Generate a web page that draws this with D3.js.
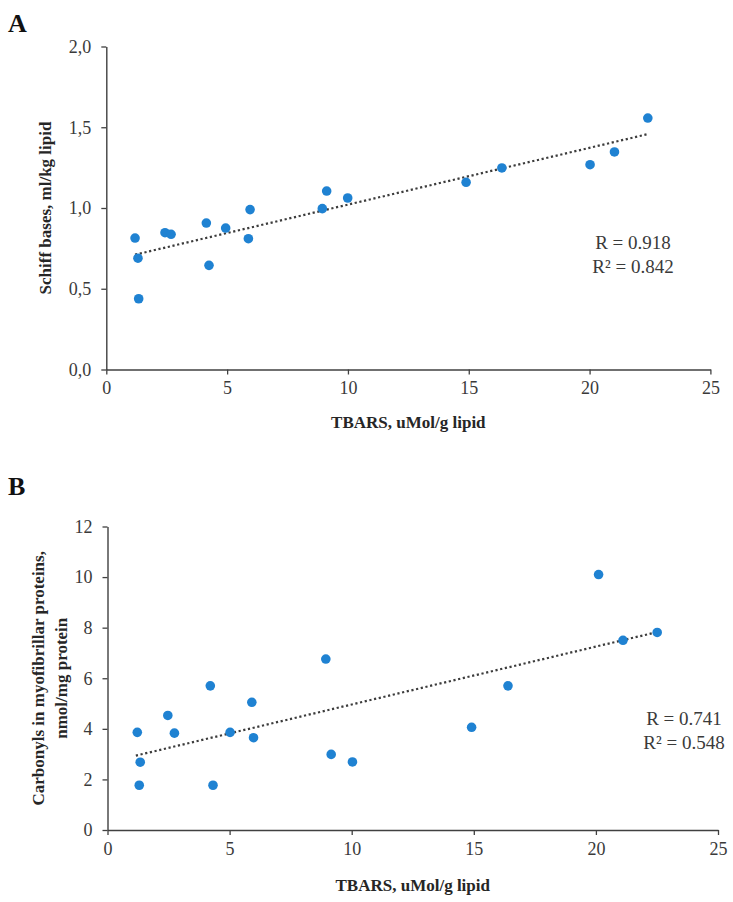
<!DOCTYPE html>
<html>
<head>
<meta charset="utf-8">
<script src="https://cdn.jsdelivr.net/npm/d3@7"></script>
<style>
  html, body { margin: 0; padding: 0; background: #fff; }
  svg { display: block; }
</style>
</head>
<body>
<svg id="chart" width="733" height="902"></svg>
<script>
// ---------- DATA ----------
// Panel A: TBARS (uMol/g lipid) vs Schiff bases (ml/kg lipid)
const tbarsA  = [1.19, 1.31, 1.34, 2.43, 2.68, 4.14, 4.25, 4.94, 5.95, 5.88, 8.94, 9.12, 9.99, 14.89, 16.37, 20.02, 21.03, 22.41];
const schiffA = [0.814, 0.689, 0.438, 0.847, 0.837, 0.907, 0.645, 0.876, 0.990, 0.810, 0.996, 1.105, 1.062, 1.159, 1.248, 1.268, 1.347, 1.557];
const trendAx = [1.19, 22.37];
const trendAy = [0.711, 1.456];
const yTicksA = [0, 0.5, 1.0, 1.5, 2.0];
const statsA  = ["R = 0.918", "R² = 0.842"];

// Panel B: TBARS (uMol/g lipid) vs Carbonyls in myofibrillar proteins (nmol/mg protein)
const tbarsB     = [1.22, 1.34, 1.30, 2.47, 2.74, 4.21, 4.32, 5.02, 5.91, 5.98, 8.94, 9.16, 10.03, 14.91, 16.40, 20.11, 21.11, 22.51];
const carbonylsB = [3.86, 2.68, 1.77, 4.53, 3.83, 5.70, 1.77, 3.86, 5.05, 3.65, 6.76, 2.99, 2.69, 4.06, 5.70, 10.10, 7.50, 7.81];
const trendBx = [1.16, 22.44];
const trendBy = [2.94, 7.81];
const yTicksB = [0, 2, 4, 6, 8, 10, 12];
const statsB  = ["R = 0.741", "R² = 0.548"];

const xTicks = [0, 5, 10, 15, 20, 25];
const xTitle = "TBARS, uMol/g lipid";
const yTitleA = ["Schiff bases, ml/kg lipid"];
const yTitleB = ["Carbonyls in myofibrillar proteins,", "nmol/mg protein"];

// ---------- DRAW ----------
const svg = d3.select("#chart");
const FONT = "'Liberation Serif', 'Times New Roman', serif";
const AXIS = "#404040";
const DOT = "#1f82d2";

function panel(opts) {
  const g = svg.append("g");
  const x = d3.scaleLinear().domain([0, 25]).range(opts.xRange);
  const y = d3.scaleLinear().domain(opts.yDomain).range(opts.yRange);

  const xAxis = g.append("g")
    .attr("transform", `translate(0,${opts.yRange[0]})`)
    .call(d3.axisBottom(x).tickValues(xTicks).tickSize(5).tickSizeOuter(0).tickPadding(7));
  const yAxis = g.append("g")
    .attr("transform", `translate(${opts.xRange[0]},0)`)
    .call(d3.axisLeft(y).tickValues(opts.yTicks).tickSize(5).tickSizeOuter(0).tickPadding(10).tickFormat(opts.yFmt));

  [xAxis, yAxis].forEach(a => {
    a.select(".domain").attr("stroke", AXIS).attr("stroke-width", 1.4);
    a.selectAll(".tick line").attr("stroke", AXIS).attr("stroke-width", 1.3);
    a.selectAll(".tick text").attr("fill", "#3a3a3a").style("font-family", FONT).style("font-size", "18px");
  });

  // trend line (dotted)
  const tr = opts.trendX.map((v, i) => [v, opts.trendY[i]]);
  g.append("path")
    .datum(tr)
    .attr("d", d3.line().x(d => x(d[0])).y(d => y(d[1])))
    .attr("fill", "none")
    .attr("stroke", "#3c3c3c")
    .attr("stroke-width", 2.2)
    .attr("stroke-dasharray", "2.2,2.6");

  // points
  const pts = opts.xs.map((v, i) => [v, opts.ys[i]]);
  g.selectAll("circle.pt").data(pts).enter().append("circle")
    .attr("class", "pt")
    .attr("cx", d => x(d[0]))
    .attr("cy", d => y(d[1]))
    .attr("r", 4.8)
    .attr("fill", DOT);

  // stats text
  g.selectAll("text.stat").data(opts.stats).enter().append("text")
    .attr("class", "stat")
    .attr("x", opts.statX)
    .attr("y", (d, i) => opts.statY + i * 24)
    .attr("text-anchor", "middle")
    .attr("fill", "#3a3a3a")
    .style("font-family", FONT)
    .style("font-size", "19px")
    .text(d => d);

  // x title
  g.append("text")
    .attr("x", (opts.xRange[0] + opts.xRange[1]) / 2)
    .attr("y", opts.xTitleY)
    .attr("text-anchor", "middle")
    .attr("fill", "#262626")
    .style("font-family", FONT)
    .style("font-size", "17px")
    .style("font-weight", "bold")
    .text(xTitle);

  // y title
  const yc = (opts.yRange[0] + opts.yRange[1]) / 2;
  opts.yTitle.forEach((t, i) => {
    g.append("text")
      .attr("transform", `translate(${opts.yTitleX[i]},${yc}) rotate(-90)`)
      .attr("text-anchor", "middle")
      .attr("fill", "#262626")
      .style("font-family", FONT)
      .style("font-size", "17px")
      .style("font-weight", "bold")
      .text(t);
  });

  // panel letter
  g.append("text")
    .attr("x", 8)
    .attr("y", opts.letterY)
    .attr("fill", "#111")
    .style("font-family", FONT)
    .style("font-size", "26px")
    .style("font-weight", "bold")
    .text(opts.letter);
}

panel({
  xRange: [106.3, 710.4], yDomain: [0, 2], yRange: [369.5, 46.5],
  yTicks: yTicksA, yFmt: d => d3.format(".1f")(d).replace(".", ","),
  xs: tbarsA, ys: schiffA, trendX: trendAx, trendY: trendAy,
  stats: statsA, statX: 633, statY: 249,
  xTitleY: 428, yTitle: yTitleA, yTitleX: [51], letter: "A", letterY: 32
});

panel({
  xRange: [107.5, 718], yDomain: [0, 12], yRange: [830, 526.5],
  yTicks: yTicksB, yFmt: d3.format("d"),
  xs: tbarsB, ys: carbonylsB, trendX: trendBx, trendY: trendBy,
  stats: statsB, statX: 684, statY: 725,
  xTitleY: 891, yTitle: yTitleB, yTitleX: [44, 67], letter: "B", letterY: 495
});
</script>
</body>
</html>
